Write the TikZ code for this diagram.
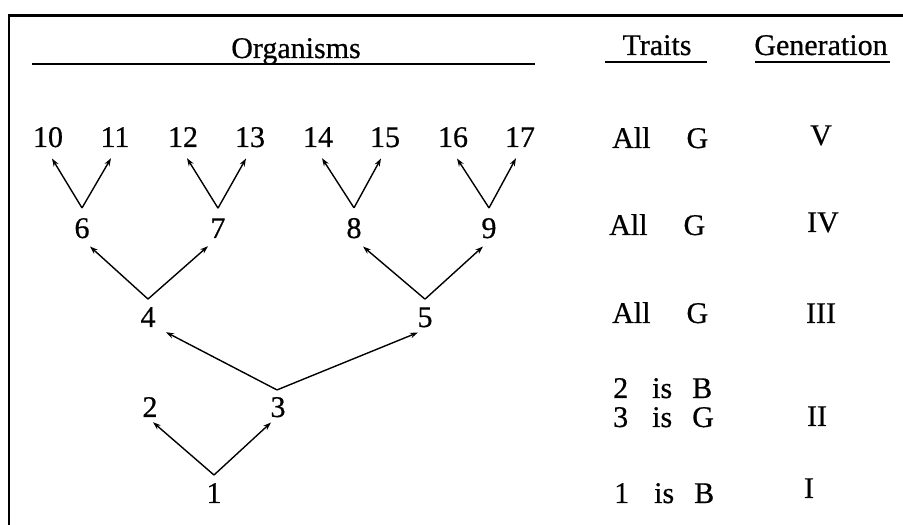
\documentclass[tikz,border=0pt]{standalone}
\usepackage{fontspec}
\setmainfont{Liberation Serif}[FakeBold=0.6]
\usetikzlibrary{arrows.meta}
\begin{document}
\begin{tikzpicture}[x=1pt,y=1pt,
  lbl/.style={inner sep=0pt, anchor=base, font=\fontsize{30}{36}\selectfont},
  lblw/.style={inner sep=0pt, anchor=base west, font=\fontsize{30}{36}\selectfont},
  arr/.style={line width=1.4pt, -{Stealth[length=8pt,width=5.5pt]}},
  rule/.style={line width=1.8pt},
  frame/.style={line width=2.6pt}]
\useasboundingbox (0,0) rectangle (903,525);
% frame (top and left)
\coordinate (ftr) at (903,509.5);
\coordinate (ftl) at (9,509.5);
\coordinate (fbl) at (9,0);
\draw[frame] (ftr) -- (ftl) -- (fbl);
% headers
\node[lbl] (hOrg) at (296,467) {Organisms};
\node[lbl] (hTr) at (657,470) {Traits};
\node[lbl] (hGen) at (821,470) {Generation};
\coordinate (u1a) at (32,461); \coordinate (u1b) at (535,461);
\coordinate (u2a) at (605,463); \coordinate (u2b) at (707,463);
\coordinate (u3a) at (755,463); \coordinate (u3b) at (890,463);
\draw[rule] (u1a) -- (u1b);
\draw[rule] (u2a) -- (u2b);
\draw[rule] (u3a) -- (u3b);
% generation V
\node[lbl] (n10) at (48,378) {10};
\node[lbl] (n11) at (115,378) {11};
\node[lbl] (n12) at (183,378) {12};
\node[lbl] (n13) at (250,378) {13};
\node[lbl] (n14) at (318,378) {14};
\node[lbl] (n15) at (385,378) {15};
\node[lbl] (n16) at (453,378) {16};
\node[lbl] (n17) at (520,378) {17};
% generation IV
\node[lbl] (n6) at (82,287) {6};
\node[lbl] (n7) at (218,287) {7};
\node[lbl] (n8) at (354,287) {8};
\node[lbl] (n9) at (489,287) {9};
% generation III
\node[lbl] (n4) at (148,198) {4};
\node[lbl] (n5) at (425,198) {5};
% generation II
\node[lbl] (n2) at (150,108) {2};
\node[lbl] (n3) at (278,108) {3};
% generation I
\node[lbl] (n1) at (214,22) {1};
% arrows V/IV
\draw[arr] ([yshift=10pt]n6.north) -- ([shift={(4pt,-11pt)}]n10.south);
\draw[arr] ([yshift=10pt]n6.north) -- ([shift={(-4pt,-11pt)}]n11.south);
\draw[arr] ([yshift=10pt]n7.north) -- ([shift={(4pt,-11pt)}]n12.south);
\draw[arr] ([yshift=10pt]n7.north) -- ([shift={(-4pt,-11pt)}]n13.south);
\draw[arr] ([yshift=10pt]n8.north) -- ([shift={(4pt,-11pt)}]n14.south);
\draw[arr] ([yshift=10pt]n8.north) -- ([shift={(-4pt,-11pt)}]n15.south);
\draw[arr] ([yshift=10pt]n9.north) -- ([shift={(4pt,-11pt)}]n16.south);
\draw[arr] ([yshift=10pt]n9.north) -- ([shift={(-4pt,-11pt)}]n17.south);
% arrows IV/III
\draw[arr] ([yshift=8pt]n4.north) -- ([shift={(8pt,-8pt)}]n6.south);
\draw[arr] ([yshift=8pt]n4.north) -- ([shift={(-10pt,-8pt)}]n7.south);
\draw[arr] ([yshift=8pt]n5.north) -- ([shift={(9pt,-8pt)}]n8.south);
\draw[arr] ([yshift=8pt]n5.north) -- ([shift={(-6pt,-8pt)}]n9.south);
% arrows III/II
\draw[arr] ([shift={(-1pt,7pt)}]n3.north) -- ([shift={(18pt,-5pt)}]n4.south);
\draw[arr] ([shift={(-1pt,7pt)}]n3.north) -- ([shift={(-7pt,-5pt)}]n5.south);
% arrows II/I
\draw[arr] ([yshift=8pt]n1.north) -- ([shift={(3pt,-5pt)}]n2.south);
\draw[arr] ([yshift=8pt]n1.north) -- ([shift={(-7pt,-5pt)}]n3.south);
% traits
\node[lblw] (t5) at (612,377) {All\hspace{36pt}G};
\node[lblw] (t4) at (609,290) {All\hspace{36pt}G};
\node[lblw] (t3) at (612,202) {All\hspace{36pt}G};
\node[lblw] (t2a) at (613,127) {2\hspace{24pt}is\hspace{20pt}B};
\node[lblw] (t2b) at (613,98) {3\hspace{24pt}is\hspace{20pt}G};
\node[lblw] (t1) at (614,22) {1\hspace{25pt}is\hspace{20pt}B};
% generations
\node[lbl] (g5) at (821,380) {V};
\node[lbl] (g4) at (823,293) {IV};
\node[lbl] (g3) at (821,202) {III};
\node[lbl] (g2) at (817,99) {II};
\node[lbl] (g1) at (809,27) {I};
\end{tikzpicture}
\end{document}
